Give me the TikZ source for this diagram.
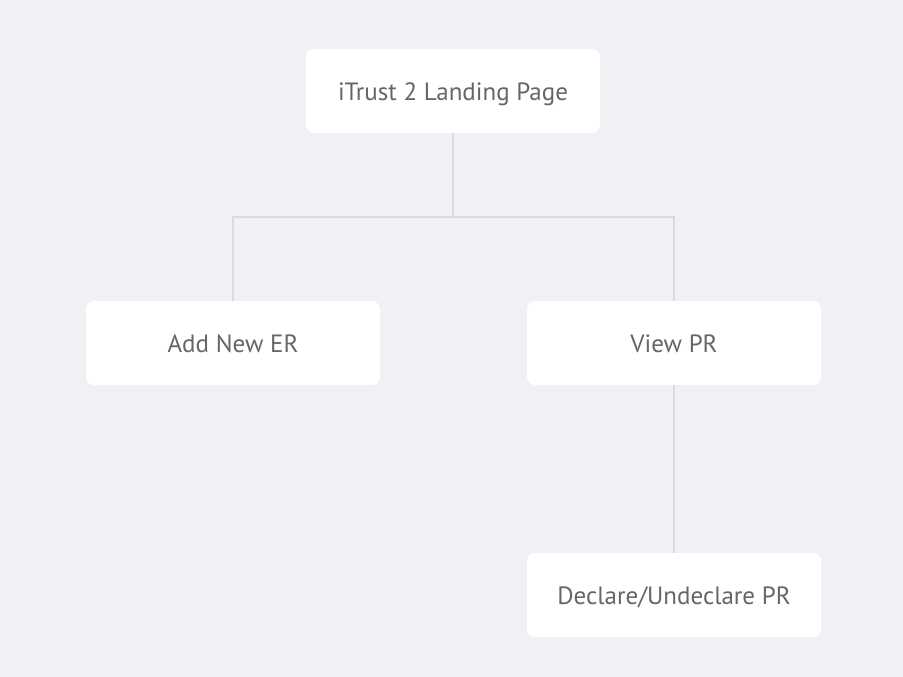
\documentclass[tikz,border=0pt]{standalone}
\usepackage{fontspec}
\setmainfont{PT Sans}
\usepackage{tikz}
\definecolor{pagebg}{HTML}{F0F1F5}
\definecolor{linkgray}{HTML}{DADBDF}
\definecolor{textgray}{HTML}{666666}
\tikzstyle{page}=[fill=white, rounded corners=8pt, minimum width=294pt, minimum height=84pt, inner sep=0pt, text=textgray, text height=21pt, text depth=2pt, font=\fontsize{25}{30}\selectfont]
\tikzstyle{link}=[draw=linkgray, line width=2pt]

\begin{document}
\begin{tikzpicture}[x=1pt, y=-1pt]
        \fill[pagebg] (0, 0) rectangle (903, 677);
        \useasboundingbox (0, 0) rectangle (903, 677);
        \node[page] (landing) at (453, 91)  {iTrust 2 Landing Page};
        \node[page] (addER)   at (233, 343) {Add New ER};
        \node[page] (viewPR)  at (674, 343) {View PR};
        \node[page] (declare) at (674, 595) {Declare/Undeclare PR};
        \coordinate (split) at (453, 217);
        \draw[link] (landing.south) -- (split);
        \draw[link] (split) -| (addER.north);
        \draw[link] (split) -| (viewPR.north);
        \draw[link] (viewPR.south) -- (declare.north);
    \end{tikzpicture}
\end{document}
